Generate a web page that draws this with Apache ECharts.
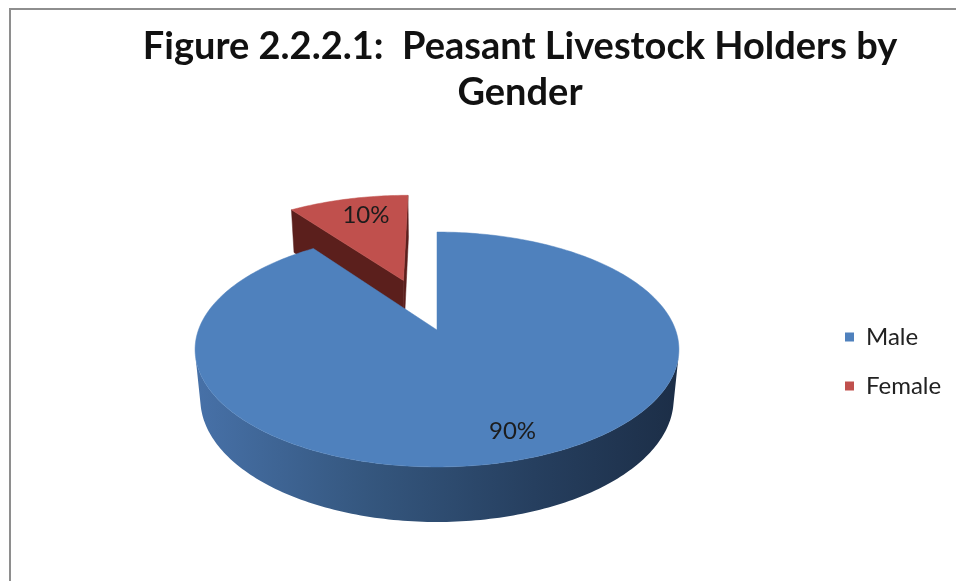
<!DOCTYPE html>
<html>
<head>
<meta charset="utf-8">
<title>Peasant Livestock Holders by Gender</title>
<script src="https://cdn.jsdelivr.net/npm/echarts@6/dist/echarts.min.js"></script>
<style>
  html, body { margin: 0; padding: 0; background: #fff; }
  #chart { width: 956px; height: 581px; }
</style>
</head>
<body>
<div id="chart"></div>
<script>
// data
const categories = ['Male', 'Female'];
const shares = [90, 10];

const total = shares.reduce((a, b) => a + b, 0);
const startAngles = shares.map((v, i) => shares.slice(0, i).reduce((a, b) => a + b, 0) / total * 360);

// 3d pie layout (perspective view, radius = 1)
const pie3d = { cx: 437, cy: 330, k: 1262, dist: 5.29, sinT: 0.4788, cosT: 0.8779, depth: 0.239 };
const explodeBy = { Female: 0.49 };
const labelRadius = 0.8;
const labelShift = [8, 2];
const RAD = Math.PI / 180;

const looks = {
    Male: {
        top: '#4f81bd',
        wall: '#2c4a70',
        side: ['#4771a8', '#35577f', '#263f5f', '#1c2e47']
    },
    Female: {
        top: '#c0504d',
        wall: '#5b1f1c',
        side: ['#8a3532', '#6e2926', '#561e1c', '#421614']
    }
};

function proj(x, y, z) {
    const p = pie3d;
    const d = y * p.cosT - z * p.sinT + p.dist;
    return [p.cx + p.k * x / d, p.cy - p.k * (y * p.sinT + z * p.cosT) / d];
}

function renderSlice(params, api) {
    const name = params.seriesName;
    const i = categories.indexOf(name);
    const v = api.value(0);
    const a0 = startAngles[i];
    const a1 = a0 + v / total * 360;
    const mid = (a0 + a1) / 2 * RAD;
    const e = explodeBy[name] || 0;
    const ox = e * Math.sin(mid), oy = e * Math.cos(mid);
    const h = pie3d.depth;
    const camY = -pie3d.dist * pie3d.cosT;
    const look = looks[name];
    const rim = (deg, z) => proj(ox + Math.sin(deg * RAD), oy + Math.cos(deg * RAD), z);
    const children = [];

    // radial walls
    [[a0, a0 - 90], [a1, a1 + 90]].forEach(([a, n]) => {
        const nx = Math.sin(n * RAD), ny = Math.cos(n * RAD);
        if (nx * (0 - ox) + ny * (camY - oy) > 1e-6) {
            children.push({
                type: 'polygon',
                shape: { points: [proj(ox, oy, 0), rim(a, 0), rim(a, -h), proj(ox, oy, -h)] },
                style: { fill: look.wall, stroke: look.wall, lineWidth: 0.5 }
            });
        }
    });

    // outer wall, only the part facing the viewer
    const steps = Math.max(2, Math.ceil(a1 - a0));
    const runs = [];
    let run = [];
    for (let s = 0; s <= steps; s++) {
        const a = a0 + (a1 - a0) * s / steps;
        const sn = Math.sin(a * RAD), cs = Math.cos(a * RAD);
        const vis = camY * cs - ox * sn - oy * cs - 1 > 0;
        if (vis) run.push(a);
        else if (run.length) { runs.push(run); run = []; }
    }
    if (run.length) runs.push(run);
    runs.forEach(r => {
        if (r.length < 2) return;
        const pts = r.map(a => rim(a, 0)).concat(r.slice().reverse().map(a => rim(a, -h)));
        children.push({
            type: 'polygon',
            shape: { points: pts },
            style: {
                fill: new echarts.graphic.LinearGradient(0, 0, 1, 0, [
                    { offset: 0, color: look.side[0] },
                    { offset: 0.35, color: look.side[1] },
                    { offset: 0.7, color: look.side[2] },
                    { offset: 1, color: look.side[3] }
                ])
            }
        });
    });

    // top face
    const topPts = [proj(ox, oy, 0)];
    for (let s = 0; s <= steps; s++) {
        topPts.push(rim(a0 + (a1 - a0) * s / steps, 0));
    }
    children.push({
        type: 'polygon',
        shape: { points: topPts },
        style: { fill: look.top, stroke: look.top, lineWidth: 0.5 }
    });

    // label
    const lp = proj(ox + labelRadius * Math.sin(mid), oy + labelRadius * Math.cos(mid), 0);
    children.push({
        type: 'text',
        x: lp[0] + labelShift[0],
        y: lp[1] + labelShift[1],
        style: {
            text: Math.round(v / total * 100) + '%',
            font: '24px Lato',
            fill: '#1c1c1c',
            align: 'center',
            verticalAlign: 'middle'
        }
    });

    return { type: 'group', children: children };
}

const myChart = echarts.init(document.getElementById('chart'));
const option = {
    animation: false,
    backgroundColor: '#ffffff',
    title: {
        text: 'Figure 2.2.2.1:  Peasant Livestock Holders by\nGender',
        left: 520,
        top: 24,
        padding: 0,
        textAlign: 'center',
        textStyle: {
            fontFamily: 'Lato',
            fontWeight: 'bold',
            fontSize: 38,
            lineHeight: 46,
            color: '#111'
        }
    },
    legend: {
        orient: 'vertical',
        left: 845,
        top: 325,
        padding: 0,
        itemGap: 25,
        itemWidth: 9,
        itemHeight: 9,
        icon: 'rect',
        data: categories,
        textStyle: {
            fontFamily: 'Lato',
            fontSize: 24,
            lineHeight: 24,
            color: '#222',
            padding: [0, 0, 0, 7]
        }
    },
    graphic: [{
        type: 'rect',
        silent: true,
        shape: { x: 10, y: 9, width: 1000, height: 700 },
        style: { fill: 'none', stroke: '#8e8e8e', lineWidth: 2 }
    }],
    series: categories.map((name, i) => ({
        name: name,
        type: 'custom',
        coordinateSystem: 'none',
        z: name === 'Male' ? 3 : 2,
        itemStyle: { color: looks[name].top },
        renderItem: renderSlice,
        data: [[shares[i]]]
    }))
};
myChart.setOption(option);
</script>
</body>
</html>
